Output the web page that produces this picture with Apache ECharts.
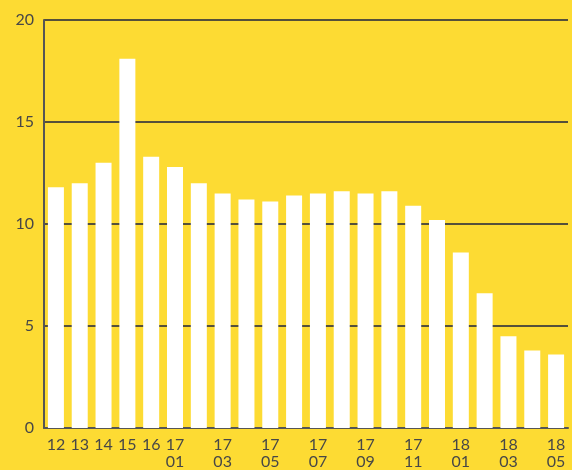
<!DOCTYPE html>
<html><head><meta charset="utf-8">
<script src="https://cdn.jsdelivr.net/npm/echarts@6/dist/echarts.min.js"></script>
<style>html,body{margin:0;padding:0;background:#FDDB33;}#c{width:572px;height:470px;}</style>
</head><body><div id="c"></div>
<script>
const categories = ['12','13','14','15','16','17-01','17-02','17-03','17-04','17-05','17-06','17-07','17-08','17-09','17-10','17-11','17-12','18-01','18-02','18-03','18-04','18-05'];
const tickLabels = ['12','13','14','15','16','17\n01','','17\n03','','17\n05','','17\n07','','17\n09','','17\n11','','18\n01','','18\n03','','18\n05'];
const values = [11.8,12.0,13.0,18.1,13.3,12.8,12.0,11.5,11.2,11.1,11.4,11.5,11.6,11.5,11.6,10.9,10.2,8.6,6.6,4.5,3.8,3.6];
const yTicks = [0,5,10,15,20];

const chart = echarts.init(document.getElementById('c'));
chart.setOption({
  backgroundColor:'#FDDB33',
  animation:false,
  grid:{left:44,right:4,top:20,bottom:40},
  xAxis:{type:'category',data:categories,
    axisLine:{lineStyle:{color:'#555',width:2}},
    axisTick:{show:false},
    axisLabel:{interval:0,color:'#474747',fontSize:16,fontFamily:'Lato',lineHeight:17,margin:8,
      formatter:(v,i)=>tickLabels[i]}},
  yAxis:{type:'value',min:yTicks[0],max:yTicks[yTicks.length-1],interval:5,
    axisLine:{show:true,lineStyle:{color:'#555',width:2}},
    axisTick:{show:false},
    axisLabel:{color:'#474747',fontSize:16,fontFamily:'Lato',margin:10},
    splitLine:{lineStyle:{color:'#55503a',width:2}}},
  series:[{type:'bar',data:values,barWidth:16,itemStyle:{color:'#ffffff'}}]
});
</script></body></html>
